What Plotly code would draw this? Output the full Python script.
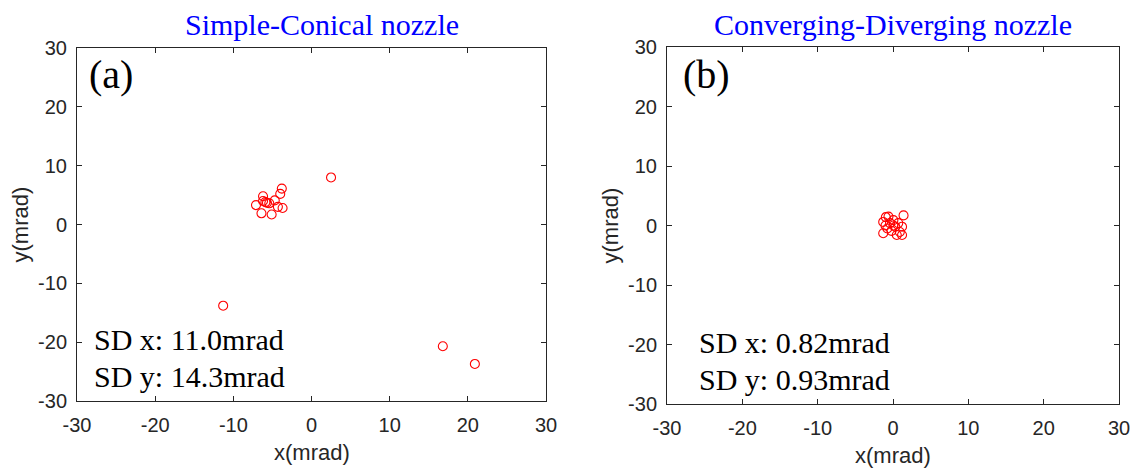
import plotly.graph_objects as go

# Panel (a): Simple-Conical nozzle (mrad)
a_x = [2.5, -11.3, 16.8, 20.9, -3.8, -4.0, -6.2, -7.1, -6.4, -5.1, -5.7, -5.4, -4.7, -4.3, -3.7, -6.2, -5.9]
a_y = [8.0, -13.8, -20.7, -23.7, 6.1, 5.2, 4.8, 3.3, 1.9, 1.7, 3.7, 3.6, 4.1, 3.0, 2.8, 4.0, 3.8]

# Panel (b): Converging-Diverging nozzle (mrad)
b_x = [1.4, -0.95, -0.6, -1.3, 0.05, 0.7, -0.4, 1.2, 0.3, -0.75, -1.3, 0.5, 1.2, -0.2, 0.9, -1.0, 0.05]
b_y = [1.7, 1.4, 1.5, 0.6, 0.9, 0.4, 0.4, -0.2, -0.2, -0.5, -1.3, -1.6, -1.6, -0.9, -1.1, 0.0, 0.0]

titles = ["Simple-Conical nozzle", "Converging-Diverging nozzle"]
panel_labels = ["(a)", "(b)"]
sd_texts = [["SD x: 11.0mrad", "SD y: 14.3mrad"], ["SD x: 0.82mrad", "SD y: 0.93mrad"]]
ticks = [-30, -20, -10, 0, 10, 20, 30]
tick_text = [str(t) for t in ticks]
x_title = "x(mrad)"
y_title = "y(mrad)"

W, H = 1132, 470
# plot boxes in pixels: (left, right, top, bottom)
boxes = [(77, 546, 48, 401), (667, 1119, 47, 404)]
title_cx = [322, 893]
label_left = [87, 681]
sd_left = [92, 697]

sans = "Liberation Sans, Arial"
serif = "Liberation Serif, Times New Roman"
dark = "#262626"

fig = go.Figure()


def px(xp):
    return xp / W


def py(yp):
    return 1 - yp / H


for i, (xs, ys) in enumerate([(a_x, a_y), (b_x, b_y)]):
    sfx = "" if i == 0 else str(i + 1)
    fig.add_trace(go.Scatter(
        x=xs, y=ys, mode="markers",
        marker=dict(symbol="circle-open", size=9, color="#ff0000", line=dict(width=1.1, color="#ff0000")),
        xaxis="x" + sfx, yaxis="y" + sfx, showlegend=False,
    ))
    l, r, t, b = boxes[i]
    common = dict(
        range=[-30, 30], tickvals=ticks, ticktext=tick_text, ticks="inside", ticklen=5, tickcolor=dark,
        showline=True, linecolor=dark, linewidth=1, mirror="allticks",
        showgrid=False, zeroline=False, automargin=False,
        tickfont=dict(family=sans, size=20, color=dark),
    )
    fig.update_layout(**{
        "xaxis" + sfx: dict(common, domain=[px(l), px(r)], anchor="y" + sfx, ticklabelstandoff=6),
        "yaxis" + sfx: dict(common, domain=[py(b), py(t)], anchor="x" + sfx, ticklabelstandoff=5),
    })
    # panel title
    fig.add_annotation(x=px(title_cx[i]), y=py(24.5), xref="paper", yref="paper",
                       text=titles[i], showarrow=False, xanchor="center", yanchor="middle",
                       font=dict(family=serif, size=30, color="#0000ff"))
    # axis titles
    fig.add_annotation(x=px((l + r) / 2), y=py(b + 51), xref="paper", yref="paper",
                       text=x_title, showarrow=False, xanchor="center", yanchor="middle",
                       font=dict(family=sans, size=22, color=dark))
    fig.add_annotation(x=px(l - 57), y=py((t + b) / 2), xref="paper", yref="paper",
                       text=y_title, showarrow=False, xanchor="center", yanchor="middle", textangle=-90,
                       font=dict(family=sans, size=22, color=dark))
    # panel label
    fig.add_annotation(x=px(label_left[i]), y=py(t + 27), xref="paper", yref="paper",
                       text=panel_labels[i], showarrow=False, xanchor="left", yanchor="middle",
                       font=dict(family=serif, size=40, color="#000000"))
    # SD texts
    fig.add_annotation(x=px(sd_left[i]), y=py(b - 62), xref="paper", yref="paper",
                       text=sd_texts[i][0], showarrow=False, xanchor="left", yanchor="middle",
                       font=dict(family=serif, size=30, color="#000000"))
    fig.add_annotation(x=px(sd_left[i]), y=py(b - 25), xref="paper", yref="paper",
                       text=sd_texts[i][1], showarrow=False, xanchor="left", yanchor="middle",
                       font=dict(family=serif, size=30, color="#000000"))

fig.update_layout(width=W, height=H, margin=dict(l=0, r=0, t=0, b=0),
                  paper_bgcolor="white", plot_bgcolor="white")
fig.write_html("out.html")
